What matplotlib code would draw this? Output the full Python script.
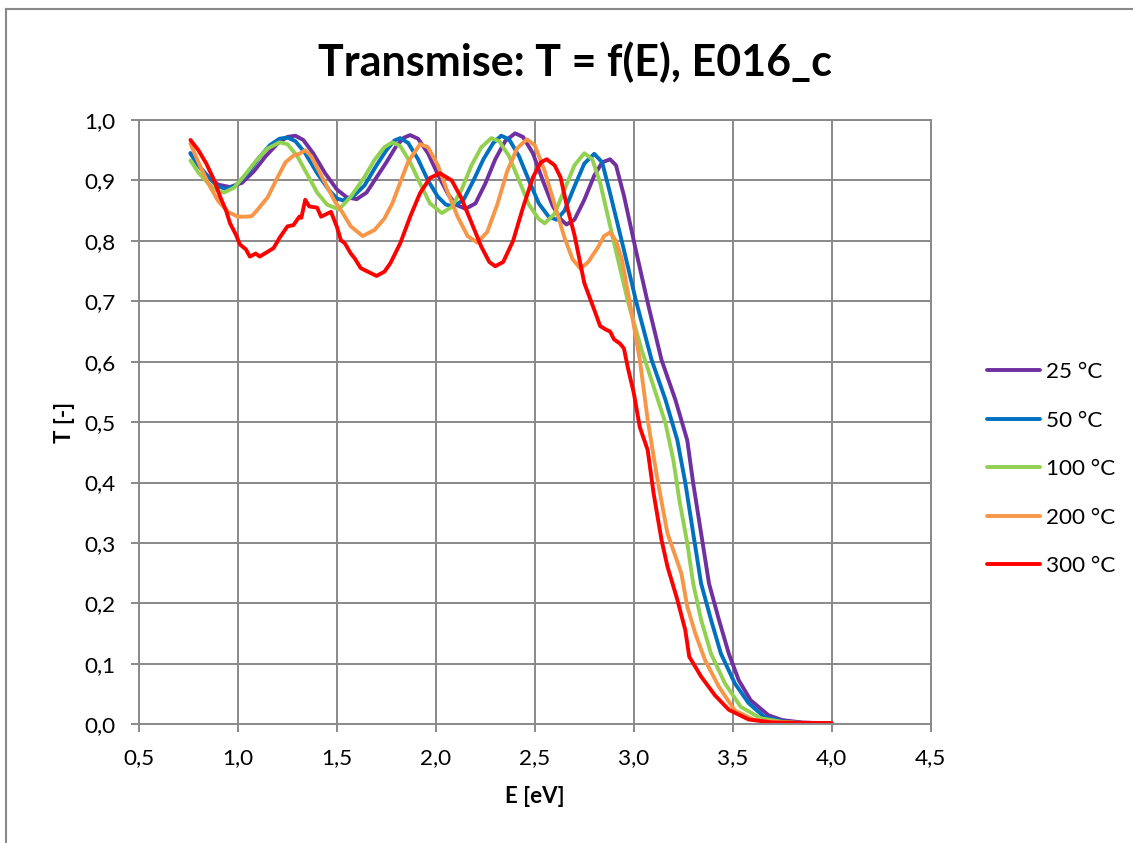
import matplotlib
matplotlib.use("Agg")
import matplotlib.pyplot as plt
from matplotlib.lines import Line2D

plt.rcParams['font.family'] = ['Lato', 'DejaVu Sans']

# ---------------- data ----------------
title = "Transmise: T = f(E), E016_c"
x_label = "E [eV]"
y_label = "T [-]"
series_names = ["25 °C", "50 °C", "100 °C", "200 °C", "300 °C"]
series_colors = ["#7030A0", "#0070C0", "#92D050", "#F79646", "#FF0000"]

x_ticks = [0.5, 1.0, 1.5, 2.0, 2.5, 3.0, 3.5, 4.0, 4.5]
x_tick_labels = ["0,5", "1,0", "1,5", "2,0", "2,5", "3,0", "3,5", "4,0", "4,5"]
y_ticks = [0.0, 0.1, 0.2, 0.3, 0.4, 0.5, 0.6, 0.7, 0.8, 0.9, 1.0]
y_tick_labels = ["0,0", "0,1", "0,2", "0,3", "0,4", "0,5", "0,6", "0,7", "0,8", "0,9", "1,0"]

E_25 = [0.76, 0.80, 0.85, 0.90, 0.96, 1.02, 1.08, 1.14, 1.20, 1.25, 1.29, 1.33, 1.38, 1.44,
        1.50, 1.55, 1.60, 1.65, 1.70, 1.75, 1.80, 1.84, 1.87, 1.91, 1.96, 2.01, 2.06, 2.10,
        2.15, 2.20, 2.25, 2.30, 2.35, 2.40, 2.44, 2.49, 2.54, 2.59, 2.63, 2.66, 2.70, 2.75,
        2.80, 2.84, 2.88, 2.91, 2.95, 2.97, 3.01, 3.07, 3.14, 3.21, 3.27, 3.30, 3.34, 3.38,
        3.43, 3.48, 3.53, 3.59, 3.68, 3.75, 3.85, 4.00]
T_25 = [0.945, 0.925, 0.906, 0.893, 0.889, 0.896, 0.915, 0.940, 0.961, 0.972, 0.974, 0.967, 0.945, 0.912,
        0.885, 0.872, 0.869, 0.880, 0.905, 0.930, 0.957, 0.971, 0.975, 0.969, 0.945, 0.910, 0.878, 0.860,
        0.853, 0.862, 0.895, 0.935, 0.965, 0.978, 0.972, 0.945, 0.900, 0.858, 0.836, 0.827, 0.835, 0.868,
        0.908, 0.930, 0.935, 0.925, 0.875, 0.845, 0.785, 0.698, 0.603, 0.537, 0.470, 0.399, 0.316, 0.233,
        0.173, 0.117, 0.073, 0.040, 0.015, 0.007, 0.003, 0.001]

E_50 = [0.76, 0.80, 0.85, 0.90, 0.94, 0.99, 1.05, 1.10, 1.16, 1.21, 1.25, 1.29, 1.34, 1.40,
        1.46, 1.50, 1.53, 1.58, 1.64, 1.70, 1.75, 1.79, 1.82, 1.86, 1.91, 1.96, 2.01, 2.05,
        2.09, 2.14, 2.19, 2.24, 2.29, 2.33, 2.37, 2.42, 2.47, 2.52, 2.57, 2.61, 2.65, 2.70,
        2.75, 2.80, 2.84, 2.88, 2.95, 3.01, 3.09, 3.16, 3.22, 3.26, 3.30, 3.34, 3.39, 3.44,
        3.51, 3.58, 3.66, 3.75, 3.85, 4.00]
T_50 = [0.945, 0.925, 0.905, 0.890, 0.886, 0.892, 0.912, 0.935, 0.958, 0.969, 0.971, 0.965, 0.945, 0.912,
        0.884, 0.870, 0.867, 0.873, 0.892, 0.925, 0.950, 0.966, 0.970, 0.962, 0.935, 0.900, 0.873, 0.860,
        0.857, 0.868, 0.900, 0.935, 0.962, 0.974, 0.968, 0.940, 0.900, 0.862, 0.840, 0.835, 0.850, 0.890,
        0.928, 0.944, 0.930, 0.879, 0.785, 0.702, 0.603, 0.537, 0.470, 0.400, 0.316, 0.233, 0.173, 0.117,
        0.068, 0.035, 0.012, 0.005, 0.002, 0.001]

E_100 = [0.76, 0.80, 0.85, 0.90, 0.93, 0.98, 1.03, 1.09, 1.15, 1.21, 1.25, 1.30, 1.35, 1.40,
         1.45, 1.51, 1.57, 1.64, 1.69, 1.74, 1.78, 1.82, 1.87, 1.92, 1.97, 2.03, 2.08, 2.13,
         2.18, 2.23, 2.28, 2.32, 2.37, 2.42, 2.47, 2.52, 2.55, 2.60, 2.65, 2.70, 2.75, 2.79,
         2.83, 2.90, 2.97, 3.04, 3.10, 3.16, 3.20, 3.23, 3.27, 3.30, 3.34, 3.39, 3.46, 3.54,
         3.64, 3.75, 3.85, 4.00]
T_100 = [0.933, 0.913, 0.895, 0.882, 0.880, 0.888, 0.907, 0.932, 0.953, 0.963, 0.960, 0.940, 0.910, 0.880,
         0.860, 0.852, 0.873, 0.906, 0.934, 0.955, 0.963, 0.957, 0.930, 0.895, 0.862, 0.846, 0.856, 0.885,
         0.925, 0.955, 0.970, 0.965, 0.940, 0.900, 0.860, 0.836, 0.829, 0.845, 0.885, 0.925, 0.945, 0.935,
         0.896, 0.797, 0.700, 0.619, 0.559, 0.498, 0.437, 0.371, 0.300, 0.233, 0.173, 0.117, 0.068, 0.029,
         0.010, 0.004, 0.002, 0.001]

E_200 = [0.76, 0.80, 0.85, 0.90, 0.95, 1.00, 1.04, 1.07, 1.10, 1.15, 1.20, 1.24, 1.28, 1.31,
         1.34, 1.37, 1.41, 1.45, 1.49, 1.52, 1.57, 1.63, 1.69, 1.74, 1.78, 1.81, 1.86, 1.92,
         1.96, 2.01, 2.06, 2.11, 2.16, 2.21, 2.26, 2.31, 2.36, 2.41, 2.46, 2.50, 2.55, 2.60,
         2.65, 2.69, 2.73, 2.77, 2.82, 2.85, 2.88, 2.91, 2.94, 2.98, 3.03, 3.07, 3.12, 3.17,
         3.24, 3.27, 3.31, 3.36, 3.43, 3.51, 3.61, 3.75, 4.00]
T_200 = [0.961, 0.930, 0.895, 0.866, 0.848, 0.840, 0.840, 0.841, 0.852, 0.872, 0.905, 0.930, 0.941, 0.944,
         0.950, 0.940, 0.915, 0.890, 0.865, 0.851, 0.824, 0.808, 0.818, 0.837, 0.862, 0.888, 0.931, 0.960,
         0.955, 0.925, 0.880, 0.840, 0.808, 0.797, 0.815, 0.860, 0.915, 0.953, 0.968, 0.958, 0.915, 0.860,
         0.805, 0.770, 0.754, 0.765, 0.790, 0.808, 0.814, 0.800, 0.769, 0.697, 0.604, 0.504, 0.404, 0.316,
         0.250, 0.195, 0.151, 0.106, 0.062, 0.023, 0.007, 0.003, 0.001]

E_300 = [0.76, 0.80, 0.84, 0.88, 0.91, 0.94, 0.96, 0.99, 1.01, 1.04, 1.06, 1.09, 1.11, 1.14,
         1.18, 1.21, 1.25, 1.28, 1.31, 1.32, 1.34, 1.36, 1.40, 1.42, 1.47, 1.50, 1.52, 1.54,
         1.57, 1.59, 1.62, 1.65, 1.70, 1.74, 1.77, 1.82, 1.87, 1.92, 1.97, 2.02, 2.08, 2.13,
         2.18, 2.23, 2.27, 2.30, 2.34, 2.39, 2.44, 2.49, 2.53, 2.56, 2.60, 2.63, 2.66, 2.70,
         2.75, 2.80, 2.83, 2.86, 2.88, 2.90, 2.93, 2.95, 2.97, 3.00, 3.03, 3.07, 3.10, 3.14,
         3.17, 3.22, 3.26, 3.28, 3.34, 3.41, 3.48, 3.58, 3.70, 4.00]
T_300 = [0.967, 0.950, 0.928, 0.900, 0.873, 0.850, 0.829, 0.810, 0.794, 0.786, 0.774, 0.779, 0.774, 0.780,
         0.788, 0.805, 0.824, 0.826, 0.840, 0.838, 0.868, 0.857, 0.855, 0.840, 0.848, 0.823, 0.801, 0.796,
         0.779, 0.771, 0.755, 0.750, 0.742, 0.749, 0.763, 0.796, 0.840, 0.879, 0.904, 0.912, 0.900, 0.870,
         0.830, 0.790, 0.765, 0.758, 0.765, 0.800, 0.855, 0.905, 0.930, 0.935, 0.925, 0.905, 0.860, 0.810,
         0.730, 0.686, 0.659, 0.653, 0.650, 0.637, 0.630, 0.622, 0.590, 0.548, 0.492, 0.454, 0.382, 0.305,
         0.261, 0.206, 0.156, 0.112, 0.079, 0.048, 0.024, 0.008, 0.003, 0.002]

series_E = [E_25, E_50, E_100, E_200, E_300]
series_T = [T_25, T_50, T_100, T_200, T_300]

# ---------------- figure ----------------
W, H = 1133, 843
fig = plt.figure(figsize=(W / 100, H / 100), dpi=100)
grid_c = "#898989"

ax = fig.add_axes([139 / W, 1 - 724.3 / H, (930.7 - 139) / W, (724.3 - 120) / H])

for E, T, name, col in zip(series_E, series_T, series_names, series_colors):
    ax.plot(E, T, color=col, lw=2.8, label=name, solid_capstyle='round', solid_joinstyle='round')

ax.set_xlim(0.5, 4.5)
ax.set_ylim(0.0, 1.0)
ax.set_xticks(x_ticks)
ax.set_xticklabels(x_tick_labels)
ax.set_yticks(y_ticks)
ax.set_yticklabels(y_tick_labels)
ax.grid(True, color=grid_c, lw=1.4)
ax.set_axisbelow(True)
for s in ax.spines.values():
    s.set_color(grid_c)
    s.set_linewidth(1.4)
ax.tick_params(axis='both', direction='out', length=5.8, width=1.4, color=grid_c,
               labelsize=16.2, labelcolor='black')
ax.tick_params(axis='x', pad=11)
ax.tick_params(axis='y', pad=11)

ax.set_xlabel(x_label, fontsize=16, fontweight='bold', labelpad=13)
ax.set_ylabel(y_label, fontsize=16, fontweight='bold', labelpad=7)

fig.text(575 / W, 1 - 62 / H, title, ha='center', va='center', fontsize=31, fontweight='bold')

leg = ax.legend(loc='center left', bbox_to_anchor=(987 / W, 1 - 469.2 / H), bbox_transform=fig.transFigure,
                frameon=False, fontsize=16.2, handlelength=2.35, handletextpad=0.28,
                labelspacing=1.27, borderpad=0, borderaxespad=0)

# chart frame (left and top edges visible)
fig.add_artist(Line2D([6 / W, 6 / W], [0, 1 - 8.5 / H], transform=fig.transFigure, color=grid_c, lw=1.5))
fig.add_artist(Line2D([6 / W, 1], [1 - 8.5 / H, 1 - 8.5 / H], transform=fig.transFigure, color=grid_c, lw=1.5))

fig.savefig("out.png", dpi=100)
